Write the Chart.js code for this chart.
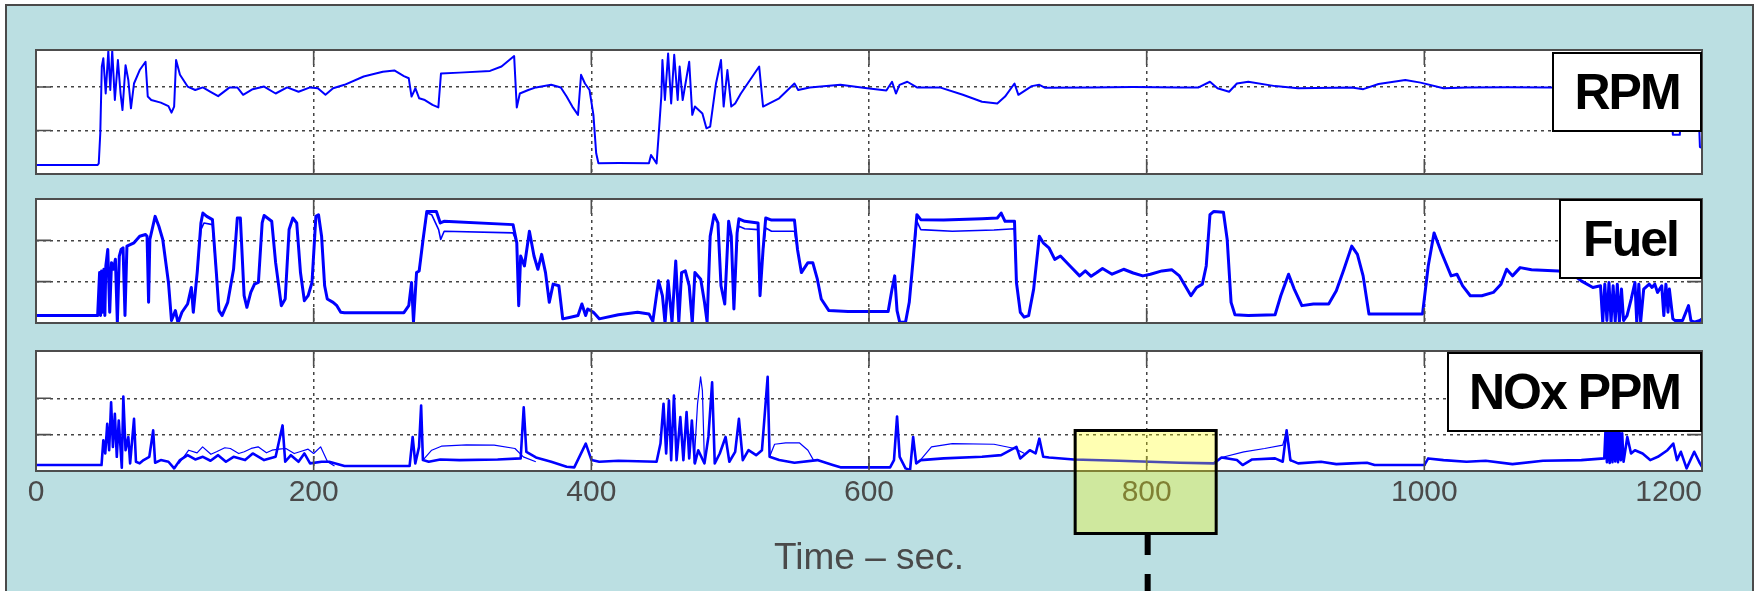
<!DOCTYPE html>
<html>
<head>
<meta charset="utf-8">
<title>Engine test trace: RPM, Fuel, NOx</title>
<script src="https://cdn.jsdelivr.net/npm/chart.js@4.4.0/dist/chart.umd.min.js"></script>
<style>
  html, body { margin: 0; padding: 0; background: #fff; overflow: hidden; }
  body { position: relative; width: 1760px; height: 591px; font-family: "Liberation Sans", Arial, Helvetica, sans-serif; }
  #frame { position: absolute; left: 5px; top: 4px; width: 1745px; height: 700px; border: 2px solid #4a4a4a; background: #bbdfe2; }
  canvas { position: absolute; left: 0; }
  .tag {
    position: absolute; box-sizing: border-box; height: 80px;
    display: flex; align-items: center; justify-content: center;
    background: #fff; border: 2px solid #000; color: #000;
    font-weight: bold; font-size: 50px; letter-spacing: -2px;
  }
</style>
</head>
<body>
<div id="frame"></div>
<canvas id="rpm" width="1760" height="144" style="top:40px"></canvas>
<canvas id="fuel" width="1760" height="144" style="top:189px"></canvas>
<canvas id="nox" width="1760" height="251" style="top:340px"></canvas>
<div class="tag" style="left:1552px; top:52px; width:150px">RPM</div>
<div class="tag" style="left:1559px; top:199px; width:143px">Fuel</div>
<div class="tag" style="left:1447px; top:352px; width:255px">NOx PPM</div>

<script>
"use strict";

// Shared time axis (seconds) and the horizontal grid levels of each panel.
const xTicks = [0, 200, 400, 600, 800, 1000, 1200];
const xTickLabels = ["0", "200", "400", "600", "800", "1000", "1200"];
const rpmGrid = [1000, 2000];
const fuelGrid = [10, 20];
const noxGrid = [500, 1000];
const rpmMax = 2850;
const fuelMax = 30;
const noxMax = 1650;
const highlightTime = 800;

// Traces, as [time, value] pairs.
const rpmTrace = [
  [0, 207], [44.4, 207], [45.2, 245], [46.3, 935], [47.4, 2470], [48.5, 2660], [50.2, 1850], [52.1, 2830], [53.5, 1930], [54.9, 2830],
  [56.8, 1700], [59, 2620], [60.9, 1850], [62.3, 1470], [64.5, 2500], [66.5, 2160], [68.4, 1510], [70.6, 2080], [74.7, 2390], [78.9, 2580],
  [80.5, 1780], [83, 1700], [89.9, 1640], [95.4, 1560], [97.6, 1410], [99.5, 1550], [100.9, 2620], [103.7, 2280], [109.2, 2010], [114.7, 1930],
  [120.2, 1990], [125.7, 1890], [131.2, 1790], [139.5, 1990], [145, 1990], [149.2, 1820], [156.1, 1950], [164.3, 2010], [172.6, 1850], [180.9, 1990],
  [189.1, 1890], [197.4, 1990], [203, 1970], [208.5, 1820], [214, 1970], [222.2, 2050], [236, 2240], [249.8, 2350], [258.1, 2380], [265, 2250],
  [268.5, 2200], [270.5, 1780], [273.3, 1970], [276, 1740], [280.1, 1700], [285.6, 1590], [289.8, 1530], [291.7, 2310], [305, 2330], [327, 2370],
  [335.3, 2470], [344.4, 2710], [346.3, 1530], [348.5, 1850], [354.6, 1930], [360.1, 1990], [371.1, 2050], [378, 1990], [382.2, 1780], [386.3, 1550],
  [390.4, 1360], [392.6, 2280], [395.4, 2080], [398.7, 1930], [401.5, 1360], [403.5, 475], [405.1, 245], [420, 250], [441.5, 245], [443, 437],
  [447, 245], [448.4, 860], [450.4, 1780], [451.2, 2620], [453, 1700], [455.3, 2770], [457.5, 1620], [459.7, 2740], [462.2, 1700], [463.6, 2470],
  [465.8, 1700], [470.5, 2580], [472.7, 1360], [474.6, 1550], [480, 1390], [482.9, 1050], [485.6, 1090], [489.8, 2080], [493.4, 2620], [495.3, 1550],
  [498, 2390], [500.8, 1550], [503.6, 1620], [507.7, 1850], [520.9, 2470], [523.7, 1550], [535.3, 1740], [546.3, 2080], [549, 1930], [557.3, 1990],
  [579.4, 2050], [598.7, 1970], [612.5, 1920], [616.6, 2120], [619.4, 1850], [622, 2050], [627.6, 2120], [634.5, 1990], [651, 1990], [667.6, 1820],
  [681.4, 1660], [692.4, 1620], [698, 1780], [704.8, 2080], [707.6, 1820], [717.2, 2020], [722.7, 2050], [726.9, 1980], [760, 1990], [790, 2000],
  [824, 1990], [837.4, 1990], [845.6, 2120], [851, 1970], [859.4, 1890], [865, 2080], [873.2, 2120], [892.5, 2020], [909, 1970], [947.7, 1990],
  [956, 1950], [967, 2070], [986.3, 2160], [997.3, 2100], [1013.8, 1970], [1030.4, 1990], [1060, 1995], [1090, 1990], [1130, 1990], [1178, 1990],
  [1179, 900], [1184, 900], [1186, 1990], [1197, 1990], [1198.5, 620], [1200, 600],
];

const fuelTrace = [
  [0, 1.8], [44.4, 1.8], [45.8, 12.2], [46.5, 1.8], [47.2, 12.6], [48, 2.6], [48.9, 13], [49.6, 1.8], [50.3, 13.8], [51.7, 17.8],
  [53.1, 2.6], [54.4, 14.6], [55.8, 13], [57.2, 15.4], [58.6, 0], [60, 16.2], [61.3, 17.8], [62.7, 18.2], [64.1, 1.8], [65.5, 18.6],
  [70.6, 19.4], [74.7, 21], [78.9, 21.4], [80, 21], [81.1, 5], [82, 20.2], [85.8, 25.8], [88.5, 23.4], [91.3, 20.2], [95.4, 9.8],
  [97.6, 0.6], [100.4, 3], [102.3, 0], [105.1, 2.6], [109.2, 4.6], [111.9, 8.6], [113.3, 2.6], [116.1, 12.2], [118.8, 24.2], [120.2, 26.6],
  [123, 25.8], [127.1, 25], [129.9, 12.2], [131.8, 3], [134, 1.8], [138.1, 5], [142.3, 13], [145, 25.4], [147.2, 25.4], [149.9, 6.6],
  [151.9, 3.8], [154.7, 7.4], [157.4, 9.4], [160.2, 9.8], [162.9, 24.2], [164.3, 26], [169.8, 24.6], [172.6, 14.6], [176.7, 4.2], [179.5, 5.8],
  [182.3, 22.6], [185, 25.4], [187.8, 24.2], [190.5, 12.2], [193.3, 5.4], [196, 6.6], [198.8, 9.8], [201.6, 25.8], [203.5, 26.2], [205.7, 21],
  [207.9, 9], [209.8, 5.8], [214, 5], [216.7, 4.2], [219.5, 2.6], [222.2, 2.5], [265, 2.5], [268.5, 4.2], [270.5, 9.8], [271.9, 0.2],
  [274.1, 12.2], [276, 12.6], [278.8, 20.2], [281.5, 27], [288.4, 27], [291.2, 24.2], [293.9, 24.6], [343.6, 23.8], [346.3, 19.4], [347.7, 4.2],
  [349.1, 16.2], [351.8, 13.8], [355.4, 22.2], [358.7, 16.2], [361.5, 13], [364.2, 16.6], [367, 12.2], [369.7, 5], [372.5, 9.4], [376.6, 9],
  [379.4, 1], [385, 1.4], [390.4, 1.8], [393.2, 4.6], [395.9, 1.8], [397.4, 3.4], [401.5, 2.6], [405.7, 1], [419.5, 2], [433.3, 2.6],
  [441.5, 2.2], [444.3, 0.4], [448.4, 10.2], [451.2, 6.6], [453.1, 0], [455.3, 10.2], [458.1, 0.2], [460.8, 15], [463, 0.2], [465, 12.2],
  [467.7, 12.6], [470.5, 9], [472.7, 0], [474.6, 12.2], [478.8, 10.6], [481.5, 5], [483.4, 0.2], [485.6, 21], [488.4, 26.2], [491.2, 24.2],
  [493.4, 9], [496.1, 4.6], [498.9, 24.6], [500.8, 21], [502.7, 3.4], [505, 21.8], [506.3, 25.2], [510.5, 24.6], [520.1, 24.2], [521.5, 6.6],
  [523.7, 17.8], [525.6, 25.4], [529.8, 24.9], [546.3, 24.9], [548.5, 17.8], [551.3, 12.2], [556, 14.6], [559.5, 14.6], [562.8, 10.6], [565.6, 5.8],
  [571.1, 3], [584.9, 2.8], [613.8, 2.8], [616.6, 8.2], [618.5, 11.4], [620.2, 3], [622.1, 0.2], [626.3, 0.2], [629, 5], [631.8, 15.4],
  [634.5, 26.2], [637.3, 25], [653.8, 24.9], [681.4, 25.2], [692.4, 25.4], [695.2, 26.6], [698, 24.6], [704.8, 24.6], [706.2, 9.8], [709, 2.6],
  [711.7, 1.4], [715, 1.8], [718.6, 8.2], [722.7, 21], [725.5, 19.4], [729.6, 18.2], [733.8, 15.4], [737.9, 16.2], [744.8, 13.8], [751.7, 11.4],
  [755.8, 12.6], [760, 11.3], [764.1, 12.2], [768.2, 13.2], [775.1, 11.8], [783.4, 13], [790.3, 12.1], [797.2, 11.4], [802.7, 11.8], [811, 12.6],
  [818, 12.9], [823.6, 11.4], [831.9, 6.6], [836, 8.6], [840.1, 9.4], [842.9, 13.8], [845.6, 26.2], [848.4, 27], [855.3, 26.8], [858, 20.2],
  [860.8, 5], [863.6, 2], [873.2, 1.8], [892.5, 2], [896.6, 6.6], [902.2, 11.8], [906.3, 8.2], [911.8, 4.2], [920.1, 4.6], [931.1, 4.6],
  [936.6, 7.8], [942.1, 13], [947.7, 18.6], [951.8, 16.6], [955.9, 11.4], [960.1, 2.2], [998.7, 2.2], [1002.8, 13.8], [1007, 21.8], [1012.4, 17],
  [1019.3, 11.4], [1023.5, 11.8], [1027.6, 9], [1033.1, 6.6], [1041.4, 6.6], [1049.7, 7.4], [1055.2, 9.4], [1059.3, 13], [1063.5, 11.4], [1069, 13.4],
  [1077.2, 12.9], [1096.5, 12.6], [1105, 12.2], [1113, 10.2], [1121.4, 8.6], [1126.9, 9], [1128.5, 0.2], [1130, 9.4], [1131.5, 0.6], [1133, 9.8],
  [1134.5, 0.2], [1136, 9], [1137.5, 0.4], [1139, 9.4], [1140.5, 0.2], [1142, 8.2], [1143.5, 0.6], [1146, 1.8], [1149, 5.8], [1151.7, 9.8],
  [1153, 0.2], [1154.5, 9.4], [1155.8, 0.2], [1158, 8.2], [1162, 9.4], [1164, 8.6], [1166, 9.4], [1168, 7.4], [1171, 9], [1172.5, 1.8],
  [1174, 9.4], [1175.5, 2.6], [1176.5, 8.2], [1179, 1], [1180.6, 0.6], [1186, 0.6], [1190.3, 4.2], [1192, 0.6], [1194.4, 0.2], [1198.5, 0.6],
  [1200, 1],
];

// Second fuel run where it separates from the first (null breaks the line).
const fuelRun2 = [
  [116.1, 12.2], [118.8, 22.6], [121, 24.2], [127.1, 23.8], [129.9, 12.2], [130, null],
  [276, 12.6], [278.8, 20.2], [281.5, 26.6], [285, 26.2], [290, 22.6], [291.5, 20.2], [294, 22.2], [343.6, 21.8], [346.3, 19.4], [347, null],
  [502.7, 3.4], [505, 21.8], [506.3, 23.4], [510.5, 22.8], [520.1, 22.6], [521.5, 6.6], [522, null],
  [523.7, 17.8], [525.6, 23], [529.8, 22.2], [546.3, 22.2], [548.5, 17.8], [549, null],
  [631.8, 15.4], [634.5, 24.6], [637.3, 22.6], [660, 22.2], [690, 22.5], [704.8, 22.8], [706.2, 9.8],
];

const noxTrace = [
  [0, 82], [47.2, 82], [48.5, 423], [49.9, 241], [51.3, 650], [52.7, 286], [54.1, 945], [55.4, 332], [56.8, 786], [58.2, 195],
  [59.6, 695], [61.8, 45], [62.9, 1023], [64.5, 286], [66.5, 468], [67.8, 105], [70.6, 718], [72, 127], [74.7, 105], [77.5, 150],
  [81.6, 195], [84.4, 559], [85.8, 114], [89.9, 150], [95.4, 127], [99.5, 36], [103.7, 150], [109.2, 218], [114.7, 159], [120.2, 195],
  [125.7, 141], [131.2, 218], [136.8, 127], [142.3, 195], [150.6, 150], [156.1, 241], [164.3, 150], [172.6, 195], [177.6, 627], [179.5, 127],
  [183.6, 218], [189.1, 127], [193.3, 241], [197.4, 105], [205.7, 127], [211.2, 127], [222.2, 68], [269.1, 68], [271.3, 468], [273.2, 105],
  [275.9, 332], [277.4, 900], [278.7, 150], [282.9, 127], [291.2, 159], [305, 150], [332.5, 159], [349.1, 173], [351.3, 877], [353.2, 264],
  [360.1, 186], [371.1, 127], [382.2, 59], [387.7, 50], [396, 377], [400.1, 150], [405.7, 127], [419.5, 141], [447, 127], [449.8, 377],
  [452, 923], [453.9, 241], [455.9, 968], [457.5, 150], [459.5, 1036], [461.4, 150], [464.1, 741], [466.3, 150], [468.6, 809], [470.5, 173],
  [472.4, 695], [474.6, 105], [477, 286], [481.5, 105], [484.3, 468], [487, 1218], [488.9, 105], [492.5, 241], [496.7, 468], [499.4, 127],
  [503.6, 264], [506.3, 718], [509.1, 150], [513.2, 286], [518.7, 218], [522.9, 286], [527, 1295], [528.4, 195], [535.3, 150], [546.3, 114],
  [562.8, 150], [573.9, 82], [579.4, 50], [615.2, 50], [618, 150], [620.2, 750], [622.1, 195], [626.3, 36], [629.6, 14], [631.8, 468],
  [634, 105], [637.3, 150], [653.8, 173], [681.4, 195], [695.2, 218], [706.2, 332], [708.9, 173], [715.8, 286], [720, 241], [722.7, 445],
  [725.5, 195], [729.7, 186], [747.6, 159], [780, 141], [824, 114], [848.4, 105], [853.9, 186], [865, 150], [869.1, 82], [876, 159],
  [892.5, 173], [898, 127], [900.8, 559], [903.5, 150], [909.1, 105], [925.6, 127], [936.6, 95], [947.7, 105], [958.7, 114], [964.2, 82],
  [1000, 82], [1002.8, 173], [1013.8, 150], [1030.4, 127], [1044.2, 141], [1063.5, 95], [1085.5, 141], [1113.1, 150], [1129.6, 173], [1130.5, 560],
  [1131.5, 120], [1132.5, 590], [1133.5, 110], [1134.5, 580], [1135.5, 120], [1136.5, 590], [1137.5, 130], [1138.5, 560], [1139.5, 120], [1140.5, 580],
  [1141.5, 150], [1142.5, 520], [1143.5, 127], [1146.2, 468], [1148.9, 241], [1151.7, 286], [1157.2, 241], [1162.7, 150], [1168.2, 195], [1175.1, 286],
  [1179.3, 377], [1182, 150], [1184.8, 264], [1188.9, 36], [1194.4, 264], [1198.5, 105], [1200, 59],
];

const noxRun2 = [
  [103, 105], [110, 286], [116, 250], [120, 332], [126, 230], [130, 264], [136, 320], [140, 309], [146, 240], [150, 264],
  [155, 310], [160, 332], [166, 250], [170, 286], [175, 300], [180, 309], [186, 240], [190, 264], [196, 300], [200, 241],
  [205, 332], [210, 127], [215, 68], [216, null],
  [278.7, 150], [285, 286], [292, 341], [310, 360], [330, 355], [345, 309], [351, 195], [360, 127], [361, null],
  [474, 105], [476.5, 923], [478.7, 1295], [480, 1105], [481.5, 105], [482, null],
  [528.4, 195], [532, 368], [540, 386], [550, 386], [556, 286], [560, 150], [561, null],
  [637, 150], [645, 332], [660, 377], [690, 368], [705, 309], [712, 241], [713, null],
  [853.9, 186], [870, 264], [885, 309], [898, 355], [901, 559], [904, 127],
];

const BLUE = "#0000ff";
const AXIS_GRAY = "#4d4d4d";
const TEXT_GRAY = "#4a4a4a";
const FONT = '"Liberation Sans", Arial, Helvetica, sans-serif';
const TICK_LEN = 15;

/** MATLAB-like axes: white plot area, inward tick marks on all sides, solid box. */
const matlabAxes = {
  id: "matlabAxes",
  beforeDraw(chart) {
    const { ctx, chartArea: a } = chart;
    ctx.save();
    ctx.fillStyle = "#fff";
    ctx.fillRect(a.left, a.top, a.width, a.height);
    ctx.restore();
  },
  afterDatasetsDraw(chart) {
    const { ctx, chartArea: a, scales: { x, y } } = chart;
    ctx.save();
    ctx.strokeStyle = AXIS_GRAY;
    ctx.lineWidth = 1.6;
    ctx.beginPath();
    for (const t of x.ticks) {
      const px = x.getPixelForValue(t.value);
      ctx.moveTo(px, a.top);
      ctx.lineTo(px, a.top + TICK_LEN);
      ctx.moveTo(px, a.bottom);
      ctx.lineTo(px, a.bottom - TICK_LEN);
    }
    for (const t of y.ticks) {
      const py = y.getPixelForValue(t.value);
      ctx.moveTo(a.left, py);
      ctx.lineTo(a.left + TICK_LEN, py);
      ctx.moveTo(a.right, py);
      ctx.lineTo(a.right - TICK_LEN, py);
    }
    ctx.stroke();
    ctx.lineWidth = 2;
    ctx.strokeRect(a.left, a.top, a.width, a.height);
    ctx.restore();
  },
};

/** Translucent yellow call-out round the 800 s tick, with a dashed leader below. */
const highlight = {
  id: "highlight",
  afterDraw(chart) {
    const { ctx, chartArea: a, scales: { x } } = chart;
    const cx = x.getPixelForValue(highlightTime);
    const left = cx - 73;
    const width = 144;
    const top = a.bottom - 42;
    const bottom = a.bottom + 64;
    ctx.save();
    ctx.fillStyle = "rgba(255, 255, 0, 0.3)";
    ctx.fillRect(left, top, width, bottom - top);
    ctx.strokeStyle = "#000";
    ctx.lineWidth = 3;
    ctx.strokeRect(left + 1.5, top + 1.5, width - 3, bottom - top - 3);
    ctx.lineWidth = 6;
    ctx.setLineDash([20, 19]);
    ctx.beginPath();
    ctx.moveTo(cx + 1, bottom);
    ctx.lineTo(cx + 1, chart.height);
    ctx.stroke();
    ctx.restore();
  },
};

const toPoints = (trace) => trace.map(([x, y]) => ({ x, y }));

const line = (trace, width) => ({
  data: toPoints(trace),
  borderColor: BLUE,
  borderWidth: width,
  pointRadius: 0,
  fill: false,
  tension: 0,
  borderJoinStyle: "round",
});

const gridStyle = { color: "#444", lineWidth: 1.5, drawTicks: false };
const dashedGrid = { display: false, dash: [3, 4] };

/** Build one stacked panel; only the bottom one shows the time axis. */
function panel(canvasId, datasets, yMax, yGrid, withAxis, extra = []) {
  return new Chart(document.getElementById(canvasId), {
    type: "line",
    data: { datasets },
    options: {
      responsive: false,
      animation: false,
      events: [],
      layout: { padding: { left: 36, right: 58, top: withAxis ? 11 : 10, bottom: withAxis ? 0 : 10 } },
      plugins: { legend: { display: false }, tooltip: { enabled: false } },
      scales: {
        x: {
          type: "linear",
          min: 0,
          max: 1200,
          afterBuildTicks: (s) => { s.ticks = xTicks.map((value) => ({ value })); },
          afterFit: (s) => {
            s.height = withAxis ? 120 : 0;
            s.paddingLeft = 0;
            s.paddingRight = 0;
          },
          grid: gridStyle,
          border: dashedGrid,
          ticks: {
            display: withAxis,
            autoSkip: false,
            maxRotation: 0,
            padding: 4,
            color: TEXT_GRAY,
            font: { family: FONT, size: 30 },
            // The last label sits flush with the right edge, so pad it on the right.
            callback: (v, i) => xTickLabels[i] + (i === xTickLabels.length - 1 ? "        " : ""),
          },
          title: {
            display: withAxis,
            text: "Time \u2013 sec.",
            color: TEXT_GRAY,
            font: { family: FONT, size: 37 },
            padding: { top: 0, bottom: 10 },
          },
        },
        y: {
          min: 0,
          max: yMax,
          afterBuildTicks: (s) => { s.ticks = yGrid.map((value) => ({ value })); },
          afterFit: (s) => { s.width = 0; },
          grid: gridStyle,
          border: dashedGrid,
          ticks: { display: false },
        },
      },
    },
    plugins: [matlabAxes, ...extra],
  });
}

panel("rpm", [line(rpmTrace, 2)], rpmMax, rpmGrid, false);
panel("fuel", [line(fuelTrace, 3), line(fuelRun2, 1.6)], fuelMax, fuelGrid, false);
panel("nox", [line(noxTrace, 2.6), line(noxRun2, 1.2)], noxMax, noxGrid, true, [highlight]);
</script>
</body>
</html>
